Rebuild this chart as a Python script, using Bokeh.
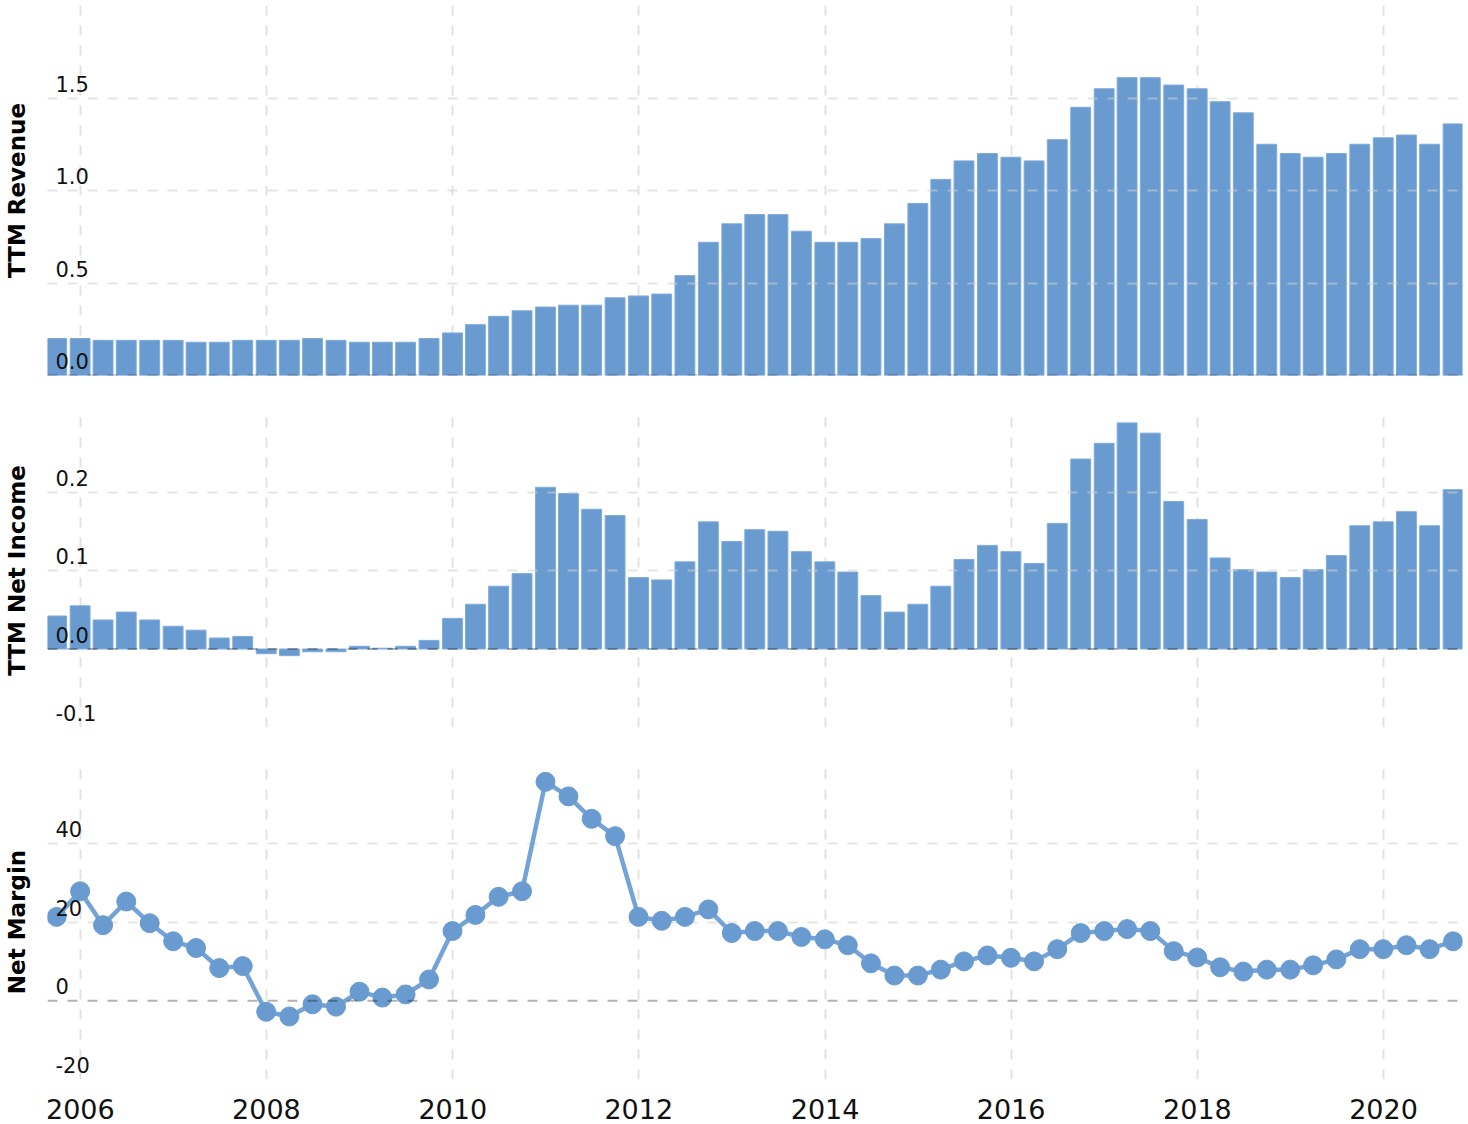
import pandas as pd
from bokeh.plotting import figure
from bokeh.models import (Range1d, FixedTicker, Grid, Span, LinearAxis, ColumnDataSource,
                          DatetimeAxis, DatetimeTickFormatter)
from bokeh.layouts import column
from bokeh.embed import file_html
from bokeh.resources import INLINE
from bokeh.core.properties import value

# ---------------- data ----------------
quarters = [f"{y}-{md}" for y in range(2005, 2021)
            for md in ("03-31", "06-30", "09-30", "12-31")][2:-1]

revenue = [0.20, 0.20, 0.19, 0.19, 0.19, 0.19, 0.18, 0.18, 0.19, 0.19,
           0.19, 0.20, 0.19, 0.18, 0.18, 0.18, 0.20, 0.23, 0.275, 0.32,
           0.35, 0.37, 0.38, 0.38, 0.42, 0.43, 0.44, 0.54, 0.72, 0.82,
           0.87, 0.87, 0.78, 0.72, 0.72, 0.74, 0.82, 0.93, 1.06, 1.16,
           1.20, 1.18, 1.16, 1.275, 1.45, 1.55, 1.61, 1.61, 1.57, 1.55,
           1.48, 1.42, 1.25, 1.20, 1.18, 1.20, 1.25, 1.285, 1.30, 1.25,
           1.36]

net_income = [0.042, 0.055, 0.037, 0.047, 0.037, 0.029, 0.024, 0.014, 0.016, -0.006,
              -0.0085, -0.0035, -0.0035, 0.0035, 0.001, 0.0035, 0.011, 0.039, 0.057, 0.080,
              0.096, 0.206, 0.198, 0.178, 0.170, 0.091, 0.088, 0.111, 0.162, 0.137,
              0.152, 0.150, 0.124, 0.111, 0.098, 0.068, 0.047, 0.057, 0.080, 0.114,
              0.132, 0.124, 0.109, 0.160, 0.242, 0.262, 0.288, 0.275, 0.188, 0.165,
              0.116, 0.101, 0.098, 0.091, 0.101, 0.119, 0.157, 0.162, 0.175, 0.157,
              0.203]

net_margin = [21.3, 27.8, 19.2, 25.2, 19.7, 15.1, 13.4, 8.3, 8.8, -2.8,
              -4.0, -0.9, -1.5, 2.3, 0.8, 1.6, 5.4, 17.7, 21.8, 26.4,
              27.8, 55.6, 51.9, 46.2, 41.8, 21.3, 20.3, 21.3, 23.2, 17.2,
              17.7, 17.7, 16.2, 15.6, 14.1, 9.5, 6.4, 6.4, 7.9, 10.0,
              11.5, 10.9, 10.0, 13.1, 17.2, 17.7, 18.2, 17.7, 12.6, 11.0,
              8.5, 7.4, 7.9, 7.9, 9.0, 10.5, 13.1, 13.1, 14.1, 13.1,
              15.1]

year_ticks = [2006, 2008, 2010, 2012, 2014, 2016, 2018, 2020]

rev_ticks = [0.0, 0.5, 1.0, 1.5]
rev_labels = ["0.0", "0.5", "1.0", "1.5"]
ni_ticks = [-0.1, 0.0, 0.1, 0.2]
ni_labels = ["-0.1", "0.0", "0.1", "0.2"]
nm_ticks = [-20, 0, 20, 40]
nm_labels = ["-20", "0", "20", "40"]

# ---------------- styling ----------------
BLUE = "#6a9bd0"
BLUE_EDGE = "#7eabdc"
FONT = "DejaVu Sans"
DAY_MS = 86400000
FRAME_W = 1415
LABEL_RAISE_PX = 14.5

dates = pd.to_datetime(quarters)
src = ColumnDataSource(dict(date=dates, revenue=revenue, ni=net_income, nm=net_margin))

x0 = pd.Timestamp("2005-08-25").value // 10**6
x1 = pd.Timestamp("2020-11-06").value // 10**6
x_range = Range1d(start=x0, end=x1)
year_ms = [pd.Timestamp(f"{y}-01-01").value // 10**6 for y in year_ticks]


def make_fig(y_start, y_end, frame_h, top, bottom, grid_ticks, title, grid_over):
    p = figure(x_range=x_range, y_range=Range1d(y_start, y_end),
               x_axis_type="datetime", x_axis_location=None, y_axis_location=None,
               frame_width=FRAME_W, frame_height=frame_h,
               min_border_left=47, min_border_right=6,
               min_border_top=top, min_border_bottom=bottom,
               output_backend="svg", toolbar_location=None,
               background_fill_color="white", border_fill_color="white")
    p.outline_line_color = None
    p.center = [r for r in p.center if not isinstance(r, Grid)]
    xg = Grid(dimension=0, ticker=FixedTicker(ticks=year_ms),
              grid_line_color="#e2e2e2", grid_line_width=2, grid_line_dash="10 10")
    p.add_layout(xg)
    yg = Grid(dimension=1, ticker=FixedTicker(ticks=grid_ticks),
              grid_line_color="#cfcfcf", grid_line_alpha=0.55,
              grid_line_width=2, grid_line_dash="10 10")
    if grid_over:
        yg.level = "annotation"
    p.add_layout(yg)
    # empty left axis that only carries the vertical title
    yax = LinearAxis(ticker=FixedTicker(ticks=[]), axis_label=title,
                     axis_line_color=None, major_tick_line_color=None,
                     minor_tick_line_color=None, major_tick_out=0, major_tick_in=0,
                     minor_tick_out=0, minor_tick_in=0,
                     major_label_standoff=0, axis_label_standoff=18,
                     axis_label_text_font=FONT, axis_label_text_font_size="23px",
                     axis_label_text_font_style="bold", axis_label_text_color="black")
    p.add_layout(yax, "left")
    return p


def add_zero_and_labels(p, ticks, labels, frame_h):
    p.add_layout(Span(location=0, dimension="width", line_color="black",
                      line_alpha=0.3, line_width=2, line_dash="10 10", level="overlay"))
    px = (p.y_range.end - p.y_range.start) / frame_h
    ys = [t + LABEL_RAISE_PX * px for t in ticks]
    r = p.text(x=[x0] * len(ticks), y=ys, text=labels,
               x_offset=8, text_align="left", text_baseline="alphabetic",
               text_font=value(FONT), text_font_size=value("21px"), text_color="#111111")
    r.level = "overlay"


# Panel 1: TTM Revenue
p1 = make_fig(0, 2.0, 370, 5, 19, [0.5, 1.0, 1.5, 2.0], "TTM Revenue", True)
p1.vbar(x="date", top="revenue", bottom=0, width=78 * DAY_MS, source=src,
        fill_color=BLUE, line_color=BLUE_EDGE, line_width=1)
add_zero_and_labels(p1, rev_ticks, rev_labels, 370)

# Panel 2: TTM Net Income
p2 = make_fig(-0.1, 0.3, 314, 19, 18, [-0.1, 0.1, 0.2, 0.3], "TTM Net Income", True)
p2.vbar(x="date", top="ni", bottom=0, width=78 * DAY_MS, source=src,
        fill_color=BLUE, line_color=BLUE_EDGE, line_width=1)
add_zero_and_labels(p2, ni_ticks, ni_labels, 314)

# Panel 3: Net Margin
p3 = make_fig(-20, 60, 315, 19, 45, [-20, 20, 40, 60], "Net Margin", False)
p3.line(x="date", y="nm", source=src, line_color="#74a3d8", line_width=4.5)
p3.scatter(x="date", y="nm", source=src, size=19, fill_color=BLUE, line_color=BLUE)
add_zero_and_labels(p3, nm_ticks, nm_labels, 315)

xaxis = DatetimeAxis(ticker=FixedTicker(ticks=year_ms),
                     formatter=DatetimeTickFormatter(years="%Y", months="%Y", days="%Y",
                                                     hours="%Y", minutes="%Y"),
                     axis_line_color=None, major_tick_line_color=None,
                     minor_tick_line_color=None, major_tick_out=0, major_tick_in=0,
                     major_label_standoff=19, major_label_text_font=FONT,
                     major_label_text_font_size="27px", major_label_text_color="#111111")
p3.add_layout(xaxis, "below")

layout = column(p1, p2, p3, spacing=0)

open("out.html", "w").write(file_html(layout, INLINE))
